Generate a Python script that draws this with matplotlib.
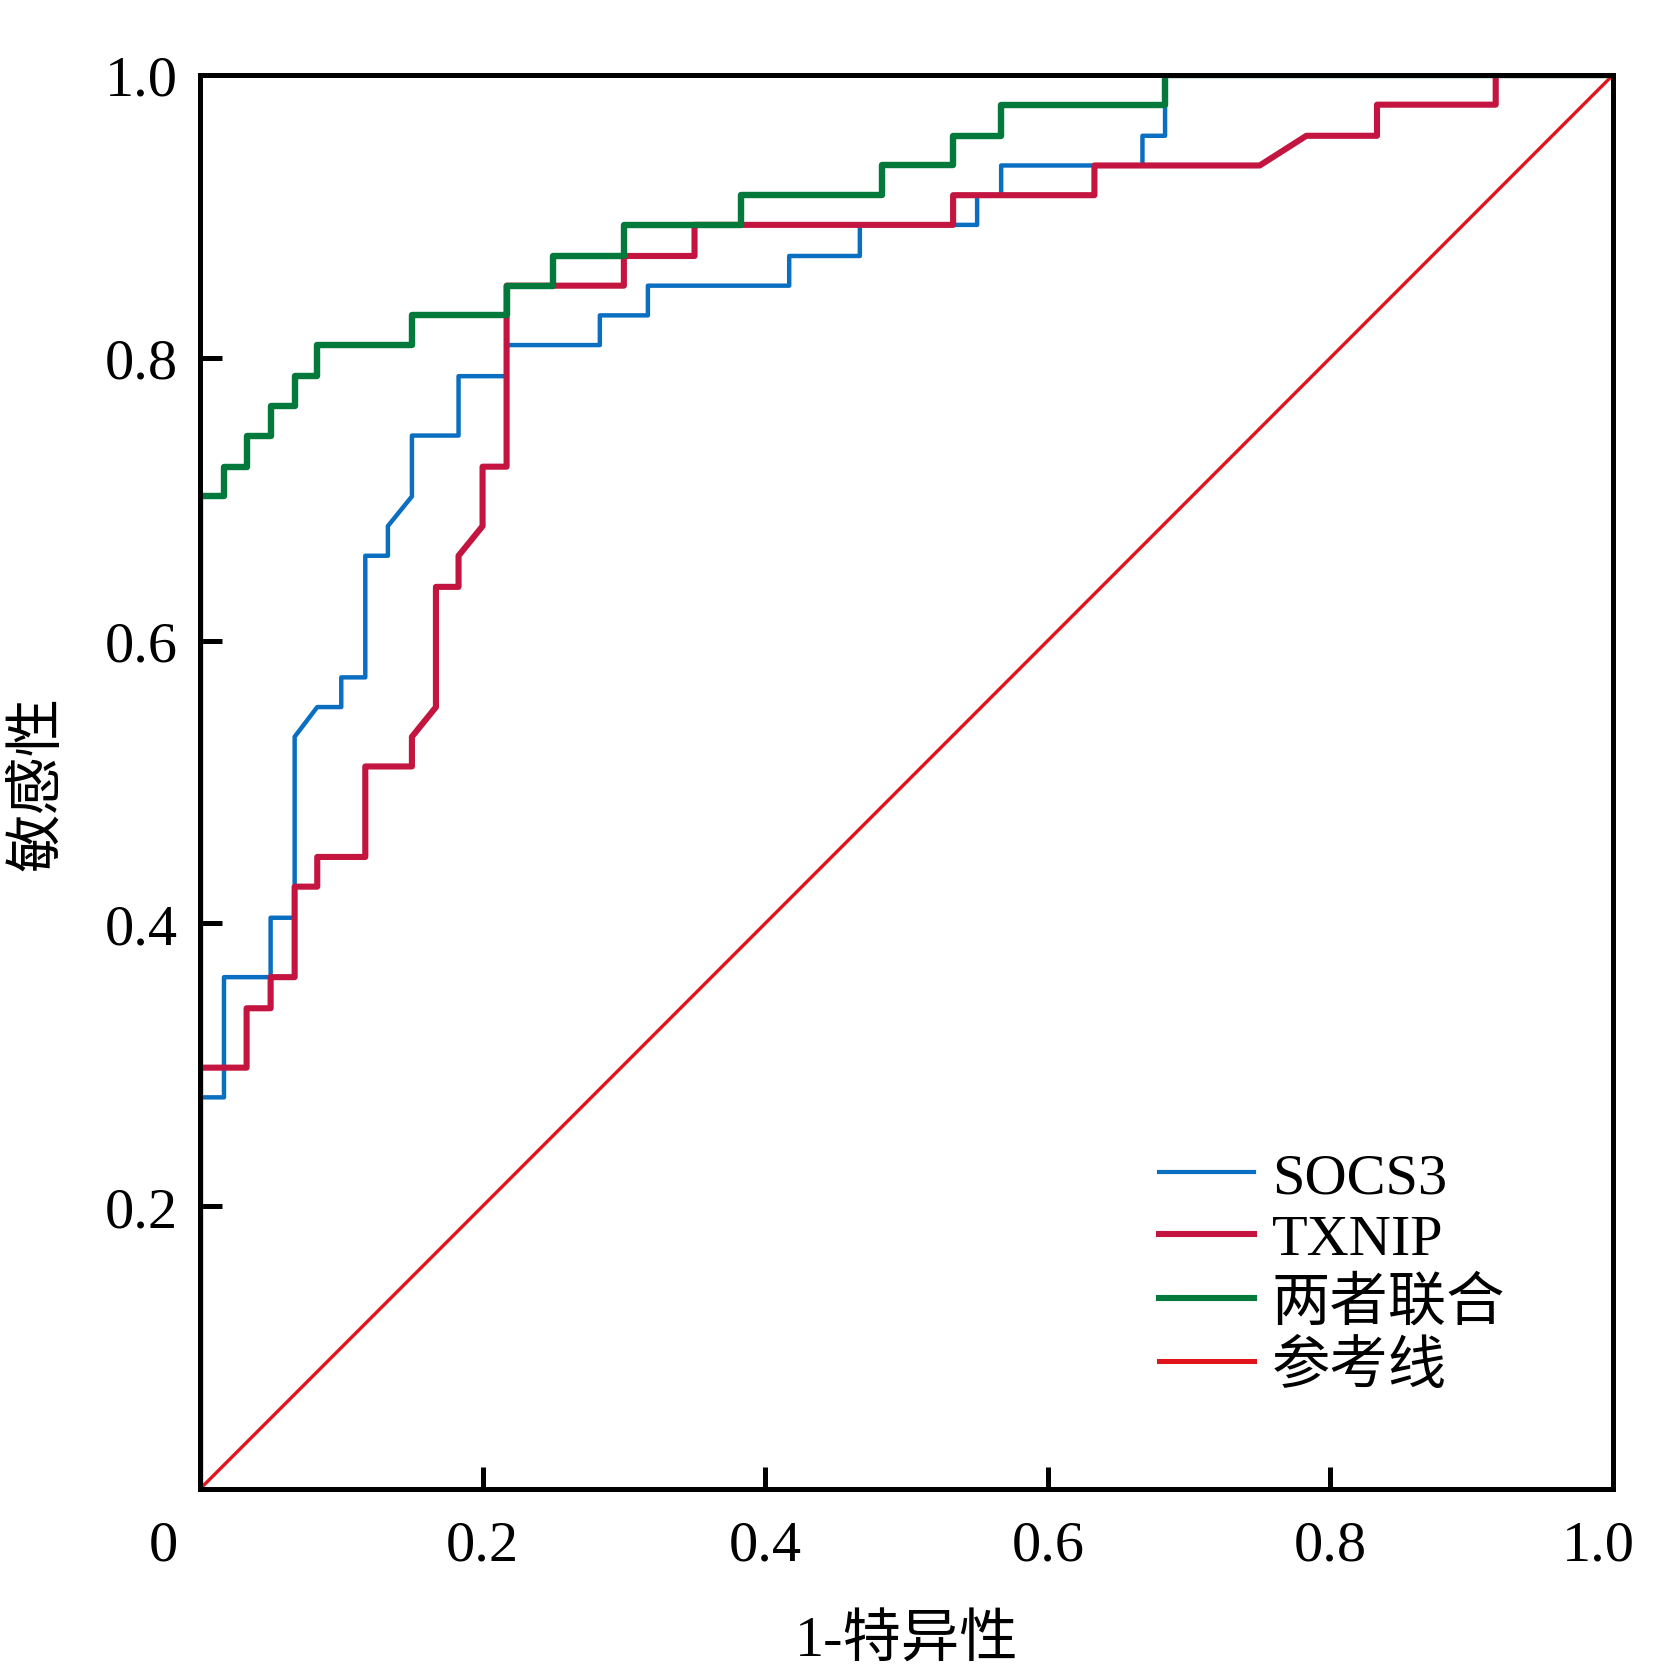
import matplotlib
matplotlib.use("Agg")
import matplotlib.pyplot as plt
import matplotlib.transforms as mtransforms

plt.rcParams['font.family'] = ['Liberation Serif', 'Noto Sans CJK SC']

# ROC curve vertices: (1-特异性, 敏感性)
socs3_fpr = [0, 0, 0.017, 0.017, 0.05, 0.05, 0.067, 0.067, 0.083, 0.1, 0.1,
             0.117, 0.117, 0.133, 0.133, 0.15, 0.15, 0.183, 0.183, 0.217,
             0.217, 0.283, 0.283, 0.317, 0.317, 0.417, 0.417, 0.467, 0.467,
             0.55, 0.55, 0.567, 0.567, 0.667, 0.667, 0.683, 0.683, 1.0]
socs3_tpr = [0, 0.277, 0.277, 0.362, 0.362, 0.404, 0.404, 0.532, 0.553,
             0.553, 0.574, 0.574, 0.660, 0.660, 0.681, 0.702, 0.745, 0.745,
             0.787, 0.787, 0.809, 0.809, 0.830, 0.830, 0.851, 0.851, 0.872,
             0.872, 0.894, 0.894, 0.915, 0.915, 0.936, 0.936, 0.957, 0.957,
             1.0, 1.0]

txnip_fpr = [0, 0, 0.033, 0.033, 0.05, 0.05, 0.067, 0.067, 0.083, 0.083,
             0.117, 0.117, 0.15, 0.15, 0.167, 0.167, 0.183, 0.183, 0.2, 0.2,
             0.217, 0.217, 0.3, 0.3, 0.35, 0.35, 0.533, 0.533, 0.633, 0.633,
             0.75, 0.783, 0.833, 0.833, 0.917, 0.917, 1.0]
txnip_tpr = [0, 0.298, 0.298, 0.340, 0.340, 0.362, 0.362, 0.426, 0.426,
             0.447, 0.447, 0.511, 0.511, 0.532, 0.553, 0.638, 0.638, 0.660,
             0.681, 0.723, 0.723, 0.851, 0.851, 0.872, 0.872, 0.894, 0.894,
             0.915, 0.915, 0.936, 0.936, 0.957, 0.957, 0.979, 0.979, 1.0, 1.0]

combo_fpr = [0, 0, 0.017, 0.017, 0.033, 0.033, 0.05, 0.05, 0.067, 0.067,
             0.083, 0.083, 0.15, 0.15, 0.217, 0.217, 0.25, 0.25, 0.3, 0.3,
             0.383, 0.383, 0.483, 0.483, 0.533, 0.533, 0.567, 0.567, 0.683,
             0.683, 1.0]
combo_tpr = [0, 0.702, 0.702, 0.723, 0.723, 0.745, 0.745, 0.766, 0.766,
             0.787, 0.787, 0.809, 0.809, 0.830, 0.830, 0.851, 0.851, 0.872,
             0.872, 0.894, 0.894, 0.915, 0.915, 0.936, 0.936, 0.957, 0.957,
             0.979, 0.979, 1.0, 1.0]

ref_x = [0, 1]
ref_y = [0, 1]

xtick_vals = [0, 0.2, 0.4, 0.6, 0.8, 1.0]
xtick_labels = ["0", "0.2", "0.4", "0.6", "0.8", "1.0"]
ytick_vals = [0.2, 0.4, 0.6, 0.8, 1.0]
ytick_labels = ["0.2", "0.4", "0.6", "0.8", "1.0"]

fig = plt.figure(figsize=(16.54, 16.81), dpi=100)
ax = fig.add_axes([0.1209, 0.1136, 0.8543, 0.8412])

ax.plot(ref_x, ref_y, color="#e2141b", lw=2.4, label="参考线", zorder=2)
ax.plot(socs3_fpr, socs3_tpr, color="#0b6fc1", lw=3.2, label="SOCS3", zorder=3)
ax.plot(txnip_fpr, txnip_tpr, color="#c3153f", lw=4.4, label="TXNIP", zorder=4)
ax.plot(combo_fpr, combo_tpr, color="#037a3c", lw=4.6, label="两者联合", zorder=5)

ax.set_xlim(0, 1)
ax.set_ylim(0, 1)
ax.set_xticks(xtick_vals)
ax.set_xticklabels(xtick_labels)
ax.set_yticks(ytick_vals)
ax.set_yticklabels(ytick_labels)
ax.tick_params(direction="in", length=16, width=3.6, labelsize=42,
               top=False, right=False)
ax.tick_params(axis="x", pad=22)
ax.tick_params(axis="y", pad=16)
for sp in ax.spines.values():
    sp.set_linewidth(3.6)
    sp.set_zorder(6)

# the origin "0" sits left of the corner, "1.0" a bit left of the end
xl = ax.get_xticklabels()
xl[0].set_transform(xl[0].get_transform() +
                    mtransforms.ScaledTranslation(-0.37, 0, fig.dpi_scale_trans))
xl[-1].set_transform(xl[-1].get_transform() +
                     mtransforms.ScaledTranslation(-0.15, 0, fig.dpi_scale_trans))

ax.set_xlabel("1-特异性", fontsize=42, labelpad=30)
ax.set_ylabel("敏感性", fontsize=42, labelpad=28)

handles, labels = ax.get_legend_handles_labels()
order = [1, 2, 3, 0]
leg = ax.legend([handles[i] for i in order], [labels[i] for i in order],
                loc="center left", bbox_to_anchor=(0.679, 0.153),
                frameon=False, fontsize=42, labelspacing=0.16,
                handlelength=1.63, handletextpad=0.3, borderpad=0,
                borderaxespad=0)
for ln, w in zip(leg.get_lines(), [3.0, 4.4, 4.4, 3.6]):
    ln.set_linewidth(w)

fig.savefig("out.png", dpi=100)
